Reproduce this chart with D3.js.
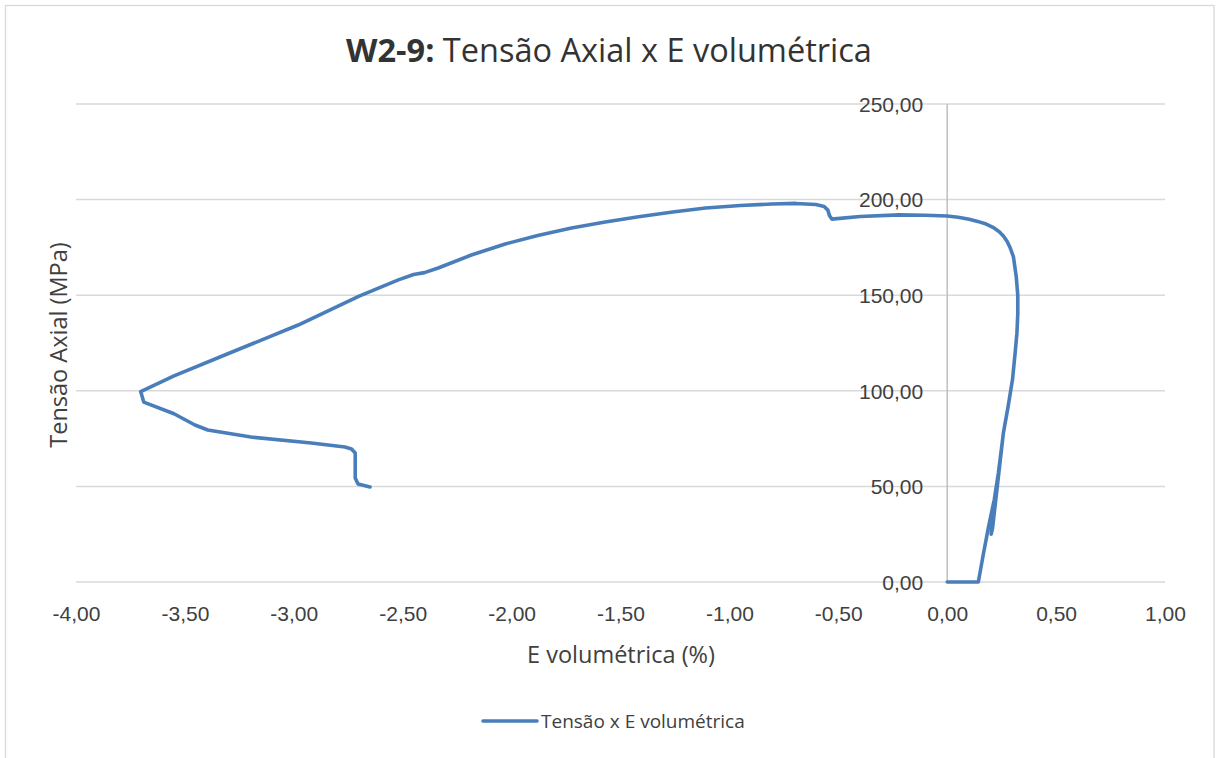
<!DOCTYPE html>
<html>
<head>
<meta charset="utf-8">
<script src="https://cdn.jsdelivr.net/npm/d3@7"></script>
<style>
  html, body { margin: 0; padding: 0; background: #ffffff; }
  svg { display: block; font-family: "Open Sans", sans-serif; }
</style>
</head>
<body>
<svg id="chart" width="1216" height="758"></svg>
<script>
// Volumetric strain (%) and axial stress (MPa) for specimen W2-9, in test order
const strain = [
  0, 0.143, 0.165, 0.19, 0.216, 0.235, 0.255, 0.228, 0.202, 0.208, 0.232, 0.258,
  0.280, 0.300, 0.312, 0.320, 0.324, 0.324, 0.317, 0.304, 0.290, 0.276, 0.258,
  0.239, 0.210, 0.179, 0.140, 0.101, 0.050, 0.000, -0.100, -0.221, -0.400,
  -0.530, -0.540, -0.548, -0.565, -0.603, -0.695, -0.805, -0.950, -1.109,
  -1.260, -1.417, -1.570, -1.725, -1.880, -2.029, -2.185, -2.337, -2.400,
  -2.450, -2.520, -2.700, -2.980, -3.300, -3.550, -3.703, -3.689, -3.550,
  -3.454, -3.395, -3.197, -2.920, -2.765, -2.735, -2.718, -2.718, -2.705, -2.650
];
const stress = [
  0, 0, 14, 29, 43, 57, 75, 50, 25, 28, 52, 78,
  92, 106, 120, 130, 140, 150, 159.7, 170.1, 174.5, 178, 181,
  183.2, 185.5, 187.2, 188.6, 189.7, 190.8, 191.4, 191.8, 192, 191.2,
  189.8, 191.5, 194.5, 196.4, 197.4, 198, 197.7, 196.9, 195.6,
  193.5, 191, 188.3, 185.2, 181.2, 176.8, 171, 164.2, 161.8,
  160.8, 158, 149.5, 134.4, 119.5, 107.8, 99.6, 94.1, 88,
  82.1, 79.5, 75.8, 72.7, 70.6, 69.6, 67.5, 54.4, 51.3, 49.7
];

const xTicks = [-4, -3.5, -3, -2.5, -2, -1.5, -1, -0.5, 0, 0.5, 1];
const yTicks = [0, 50, 100, 150, 200, 250];

const chartTitleBold = "W2-9:";
const chartTitleRest = " Tensão Axial x E volumétrica";
const xTitle = "E volumétrica (%)";
const yTitle = "Tensão Axial (MPa)";
const seriesName = "Tensão x E volumétrica";

const points = strain.map((s, i) => ({ x: s, y: stress[i] }));

const svg = d3.select("#chart");
const lineColor = "#4a7ebb";
const gridColor = "#d9d9d9";
const textColor = "#404040";
// Two decimals, comma as decimal separator, plain hyphen for negatives
const fmt = v => d3.format(".2f")(v).replace(".", ",").replace("\u2212", "-");

const x = d3.scaleLinear().domain([-4, 1]).range([76, 1165]);
const y = d3.scaleLinear().domain([0, 250]).range([582, 104]);

// Chart frame
svg.append("rect")
  .attr("x", 5.5).attr("y", 5.5)
  .attr("width", 1208.5).attr("height", 780)
  .attr("fill", "#ffffff")
  .attr("stroke", "#d9d9d9").attr("stroke-width", 1.3);

// Horizontal gridlines
svg.append("g")
  .selectAll("line")
  .data(yTicks)
  .join("line")
  .attr("x1", x(-4)).attr("x2", x(1))
  .attr("y1", d => y(d)).attr("y2", d => y(d))
  .attr("stroke", gridColor).attr("stroke-width", 1.5);

// Vertical value axis placed at x = 0
svg.append("line")
  .attr("x1", x(0)).attr("x2", x(0))
  .attr("y1", y(250)).attr("y2", y(0))
  .attr("stroke", "#bfbfbf").attr("stroke-width", 1.5);

// Y tick labels, sitting left of the zero axis
const yAxis = d3.axisLeft(y).tickValues(yTicks).tickFormat(fmt).tickSize(0).tickPadding(24);
const gy = svg.append("g").attr("transform", `translate(${x(0)},0)`).call(yAxis);
gy.select(".domain").remove();
gy.selectAll("text")
  .attr("fill", textColor)
  .style("font-size", "21px")
  .attr("dy", "0.35em");

// X tick labels along the bottom of the plot
const xAxis = d3.axisBottom(x).tickValues(xTicks).tickFormat(fmt).tickSize(0).tickPadding(24);
const gx = svg.append("g").attr("transform", `translate(0,${y(0)})`).call(xAxis);
gx.select(".domain").remove();
gx.selectAll("text")
  .attr("fill", textColor)
  .style("font-size", "21px");

// Stress–strain curve
const line = d3.line()
  .x(d => x(d.x))
  .y(d => y(d.y))
  .curve(d3.curveLinear);

svg.append("path")
  .datum(points)
  .attr("d", line)
  .attr("fill", "none")
  .attr("stroke", lineColor)
  .attr("stroke-width", 3.6)
  .attr("stroke-linejoin", "round")
  .attr("stroke-linecap", "round");

// Title
const title = svg.append("text")
  .attr("x", 609).attr("y", 62)
  .attr("text-anchor", "middle")
  .attr("fill", "#333333")
  .style("font-size", "32.5px");
title.append("tspan").attr("font-weight", "bold").text(chartTitleBold);
title.append("tspan").text(chartTitleRest);

// Axis titles
svg.append("text")
  .attr("x", 621).attr("y", 663)
  .attr("text-anchor", "middle")
  .attr("fill", textColor)
  .style("font-size", "23.5px")
  .text(xTitle);

svg.append("text")
  .attr("transform", "translate(67,345) rotate(-90)")
  .attr("text-anchor", "middle")
  .attr("fill", textColor)
  .style("font-size", "23.5px")
  .text(yTitle);

// Legend
const legend = svg.append("g").attr("transform", "translate(483,721)");
legend.append("line")
  .attr("x1", 0).attr("x2", 54)
  .attr("y1", 0).attr("y2", 0)
  .attr("stroke", lineColor).attr("stroke-width", 3.6)
  .attr("stroke-linecap", "round");
legend.append("text")
  .attr("x", 58).attr("y", 0)
  .attr("dy", "0.35em")
  .attr("fill", textColor)
  .style("font-size", "19px")
  .text(seriesName);
</script>
</body>
</html>
